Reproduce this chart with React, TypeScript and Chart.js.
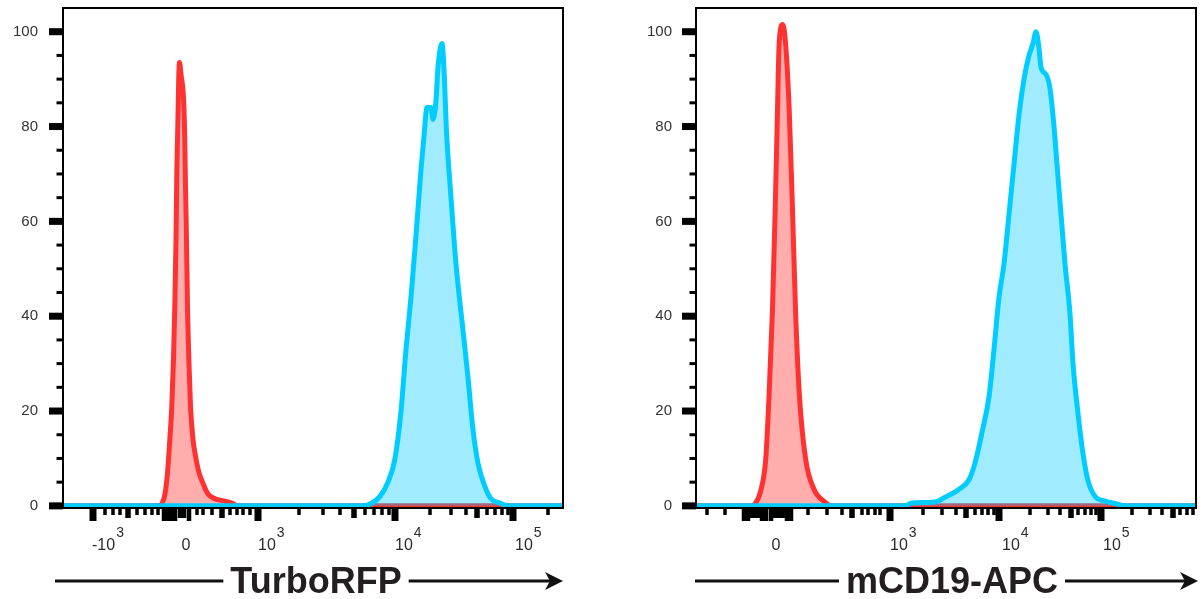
import React, { useEffect, useRef } from "react";
import { Chart, registerables } from "chart.js";

Chart.register(...registerables);

const FONT = "'Liberation Sans', Arial, Helvetica, sans-serif";
Chart.defaults.font.family = FONT;

// ---------- data (x in display channels 0..1000, y = % of max) ----------
const turboNegX = [0, 192, 198, 204, 209, 213, 217.6, 221, 223.6, 226, 227.6, 230, 231.4, 233, 236, 241, 243, 244.6, 247, 249, 252, 255, 260, 265, 272, 279, 290, 304, 324, 340, 348, 1000];
const turboNegY = [0, 0, 0.5, 2.5, 7, 13, 21, 31, 42, 56, 70, 82, 90, 93.5, 91, 86, 80, 70, 56, 42, 30, 21, 14, 10.5, 7, 5, 2.5, 1.5, 1, 0.5, 0, 0];

const turboPosX = [0, 600, 618, 634, 650, 664, 676, 686, 696, 706, 716, 722, 728, 736, 740, 746, 750, 758, 762, 767, 776, 786, 800, 810, 820, 830, 844, 856, 874, 890, 1000];
const turboPosY = [0, 0, 0.6, 2, 5, 10, 20, 33, 44, 57, 71, 78, 84, 84, 81.5, 85.5, 92.5, 97.5, 92, 79, 65, 51, 37, 27, 16, 9, 4, 1.5, 0.6, 0, 0];

const cd19NegX = [0, 112, 118, 129, 139.6, 146.4, 153, 158.4, 163, 166.4, 173.4, 179, 186.4, 193, 199, 206.4, 219, 236, 258, 272, 1000];
const cd19NegY = [0, 0, 0.4, 3, 10, 24, 41.5, 62.5, 83.6, 97.7, 101.5, 97.7, 83.6, 62.5, 41.5, 24, 10, 3.5, 0.8, 0, 0];

const cd19PosX = [0, 418, 432, 478, 498, 526, 546, 558, 572, 586, 596, 606, 616, 626, 636, 646, 656, 666, 674, 680, 686, 690, 700, 708, 716, 722, 730, 738, 748, 754, 764, 774, 784, 798, 818, 838, 858, 1000];
const cd19PosY = [0, 0, 0.6, 0.8, 1.8, 3.5, 5.5, 9, 15.5, 23, 33, 44, 51, 61.5, 72, 82.5, 90, 95, 97.5, 100, 96.5, 92.5, 91, 88, 80, 72, 61.5, 51, 40.5, 30, 19.5, 11, 5.3, 2, 1, 0.5, 0, 0];

// ---------- axis ticks ----------
const yTickValues = [0, 20, 40, 60, 80, 100];
const yMinorTickValues = [5, 10, 15, 25, 30, 35, 45, 50, 55, 65, 70, 75, 85, 90, 95];

const turboMajorTicks = [60, 390, 664, 900];
const turboZeroLongTicks = [202, 210, 218, 224, 252];
const turboZeroShortTicks = [234, 242];
const turboMediumTicks = [130, 318, 582, 828];
const turboMinorTicks = [84, 100, 114, 148, 164, 178, 190, 268, 280, 298, 334, 348, 360, 374, 472, 520, 554, 604, 622, 638, 652, 734, 776, 806, 848, 864, 878, 890, 970];
const turboLabelPos = [58, 246, 390, 664, 904];
const turboLabelBase = ["-10", "0", "10", "10", "10"];
const turboLabelExp = ["3", "", "3", "4", "5"];

const cd19MajorTicks = [388, 606, 810];
const cd19ZeroLongTicks = [96, 104, 132, 140, 150, 182, 190];
const cd19ZeroShortTicks = [112, 120, 124, 158, 166, 174];
const cd19MediumTicks = [312, 540, 750, 954];
const cd19MinorTicks = [22, 58, 224, 262, 292, 332, 344, 358, 368, 454, 492, 520, 558, 572, 584, 596, 668, 704, 728, 764, 778, 790, 800, 872, 908, 932, 968, 982, 994];
const cd19LabelPos = [160, 388, 612, 814];
const cd19LabelBase = ["0", "10", "10", "10"];
const cd19LabelExp = ["", "3", "4", "5"];

const RED = "#ff3232";
const RED_FILL = "rgba(255, 40, 40, 0.38)";
const CYAN = "#00ccff";
const CYAN_FILL = "rgba(0, 200, 255, 0.37)";

type PanelProps = {
  left: number;
  negX: number[];
  negY: number[];
  posX: number[];
  posY: number[];
  majorTicks: number[];
  zeroLongTicks: number[];
  zeroShortTicks: number[];
  mediumTicks: number[];
  minorTicks: number[];
  labelPos: number[];
  labelBase: string[];
  labelExp: string[];
  title: string;
  yWidth: number;
  padRight: number;
  labelPad: number;
  titleOffset: number;
  arrowStart: number;
  arrowTipOffset: number;
};

function Panel(p: PanelProps) {
  const ref = useRef<HTMLCanvasElement>(null);
  useEffect(() => {
    const canvas = ref.current;
    if (!canvas) return;

    const axisPlugin = {
      id: "flowAxes",
      afterDraw(chart: any) {
        const { ctx, chartArea: a } = chart;
        const xs = chart.scales.x;
        const ys = chart.scales.y;
        ctx.save();
        ctx.fillStyle = "#000";
        // y tick marks
        yTickValues.forEach((v) => {
          const y = ys.getPixelForValue(v);
          ctx.fillRect(a.left - 14, y - 3.5, 14, 7);
        });
        yMinorTickValues.forEach((v) => {
          const y = ys.getPixelForValue(v);
          ctx.fillRect(a.left - 6.5, y - 1.5, 6.5, 3);
        });
        // x tick marks
        const drawX = (list: number[], w: number, len: number) => {
          list.forEach((c) => {
            const x = xs.getPixelForValue(c);
            ctx.fillRect(x - w / 2, a.bottom, w, len);
          });
        };
        drawX(p.minorTicks, 3.5, 7);
        drawX(p.mediumTicks, 5.5, 10);
        drawX(p.zeroShortTicks, 4.5, 10);
        drawX(p.zeroLongTicks, 4.5, 13);
        drawX(p.majorTicks, 7, 13);
        // frame
        ctx.strokeStyle = "#000";
        ctx.lineWidth = 2;
        ctx.strokeRect(a.left, a.top, a.right - a.left, a.bottom - a.top);
        // x labels with superscripts
        ctx.fillStyle = "#2b2b2b";
        ctx.textBaseline = "alphabetic";
        p.labelPos.forEach((c, i) => {
          const x = xs.getPixelForValue(c);
          const base = p.labelBase[i];
          const exp = p.labelExp[i];
          ctx.font = `16px ${FONT}`;
          if (!exp) {
            ctx.textAlign = "center";
            ctx.fillText(base, x, 550);
          } else {
            ctx.textAlign = "left";
            const bw = ctx.measureText(base).width;
            ctx.fillText(base, x, 550);
            ctx.font = `14px ${FONT}`;
            ctx.fillText(exp, x + bw + 1, 537);
          }
        });
        // axis title with arrow
        const ty = 581;
        ctx.font = `bold 36px ${FONT}`;
        const tw = ctx.measureText(p.title).width;
        const cx = a.left + p.titleOffset;
        ctx.fillStyle = "#231f20";
        ctx.textAlign = "center";
        ctx.fillText(p.title, cx, 593);
        ctx.strokeStyle = "#111";
        ctx.fillStyle = "#111";
        ctx.lineWidth = 3;
        ctx.beginPath();
        ctx.moveTo(a.left + p.arrowStart, ty);
        ctx.lineTo(cx - tw / 2 - 7, ty);
        ctx.stroke();
        const tip = a.right + p.arrowTipOffset;
        ctx.beginPath();
        ctx.moveTo(cx + tw / 2 + 7, ty);
        ctx.lineTo(tip - 10, ty);
        ctx.stroke();
        ctx.beginPath();
        ctx.moveTo(tip, ty);
        ctx.lineTo(tip - 18, ty - 9);
        ctx.lineTo(tip - 13, ty);
        ctx.lineTo(tip - 18, ty + 9);
        ctx.closePath();
        ctx.fill();
        ctx.restore();
      },
    };

    const chart = new Chart(canvas, {
      type: "line",
      data: {
        datasets: [
          {
            label: "negative",
            data: p.negX.map((x, i) => ({ x, y: p.negY[i] })),
            borderColor: RED,
            backgroundColor: RED_FILL,
            fill: "origin",
            borderWidth: 5,
            pointRadius: 0,
            cubicInterpolationMode: "monotone",
            order: 2,
          },
          {
            label: "positive",
            data: p.posX.map((x, i) => ({ x, y: p.posY[i] })),
            borderColor: CYAN,
            backgroundColor: CYAN_FILL,
            fill: "origin",
            borderWidth: 5,
            pointRadius: 0,
            cubicInterpolationMode: "monotone",
            order: 1,
          },
        ],
      },
      options: {
        animation: false,
        responsive: false,
        devicePixelRatio: 1,
        events: [],
        layout: { padding: { left: 0, right: p.padRight, top: 8, bottom: 91 } },
        plugins: { legend: { display: false }, tooltip: { enabled: false } },
        scales: {
          x: { type: "linear", min: 0, max: 1000, display: false },
          y: {
            type: "linear",
            min: -0.45,
            max: 105,
            afterBuildTicks: (s: any) => {
              s.ticks = yTickValues.map((v) => ({ value: v }));
            },
            afterFit: (s: any) => {
              s.width = p.yWidth;
              s.paddingTop = 0;
              s.paddingBottom = 0;
            },
            grid: { display: false, drawTicks: true, tickLength: 13 },
            border: { display: false },
            ticks: {
              padding: p.labelPad,
              color: "#333",
              font: { size: 15, family: FONT, lineHeight: 1 },
            },
          },
        },
      } as any,
      plugins: [axisPlugin],
    });
    return () => chart.destroy();
  }, []);
  return (
    <canvas
      ref={ref}
      width={602}
      height={599}
      style={{ position: "absolute", left: p.left, top: 0, width: 602, height: 599 }}
    />
  );
}

export default function App() {
  return (
    <div style={{ position: "absolute", left: 0, top: 0, width: 1204, height: 599, background: "#fff", overflow: "hidden" }}>
      <Panel
        left={0}
        negX={turboNegX}
        negY={turboNegY}
        posX={turboPosX}
        posY={turboPosY}
        majorTicks={turboMajorTicks}
        zeroLongTicks={turboZeroLongTicks}
        zeroShortTicks={turboZeroShortTicks}
        mediumTicks={turboMediumTicks}
        minorTicks={turboMinorTicks}
        labelPos={turboLabelPos}
        labelBase={turboLabelBase}
        labelExp={turboLabelExp}
        title="TurboRFP"
        yWidth={63}
        padRight={39}
        labelPad={12}
        titleOffset={253}
        arrowStart={-8}
        arrowTipOffset={0}
      />
      <Panel
        left={602}
        negX={cd19NegX}
        negY={cd19NegY}
        posX={cd19PosX}
        posY={cd19PosY}
        majorTicks={cd19MajorTicks}
        zeroLongTicks={cd19ZeroLongTicks}
        zeroShortTicks={cd19ZeroShortTicks}
        mediumTicks={cd19MediumTicks}
        minorTicks={cd19MinorTicks}
        labelPos={cd19LabelPos}
        labelBase={cd19LabelBase}
        labelExp={cd19LabelExp}
        title="mCD19-APC"
        yWidth={94}
        padRight={8}
        labelPad={11}
        titleOffset={256}
        arrowStart={-1}
        arrowTipOffset={2}
      />
    </div>
  );
}
